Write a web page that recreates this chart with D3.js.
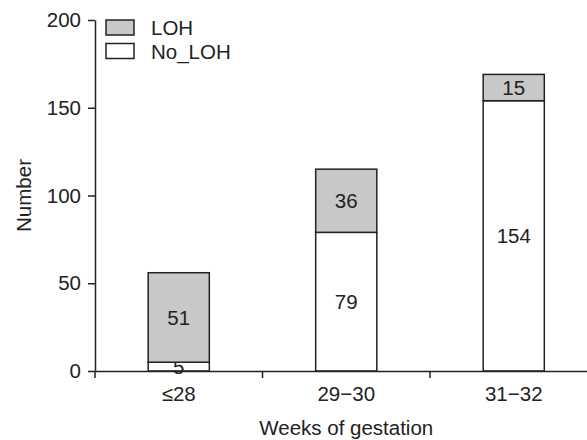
<!DOCTYPE html>
<html>
<head>
<meta charset="utf-8">
<script src="https://cdn.jsdelivr.net/npm/d3@7"></script>
<style>
  html, body { margin: 0; padding: 0; background: #fff; }
  svg { display: block; }
  text { font-family: "Liberation Sans", Arial, sans-serif; fill: #222; }
</style>
</head>
<body>
<svg id="chart" width="587" height="440"></svg>
<script>
const categories = ["≤28", "29−30", "31−32"];
const noLOH = [5, 79, 154];
const LOH = [51, 36, 15];
const seriesNames = ["LOH", "No_LOH"];
const yTicks = [0, 50, 100, 150, 200];

(function () {
const mLeft = 95, mRight = 597.5, mTop = 20, mBottom = 371;
const fontSize = 20.5;
const ink = "#222";
const grey = "#c8c8c8";

const svg = d3.select("#chart");

const x = d3.scaleBand().domain(categories).range([mLeft, mRight]).padding(0);
const y = d3.scaleLinear().domain([0, 200]).range([mBottom, mTop]);
const barW = x.bandwidth() * 0.365;

const rows = categories.map((c, i) => ({ cat: c, No_LOH: noLOH[i], LOH: LOH[i] }));
const stack = d3.stack().keys(["No_LOH", "LOH"])(rows);
const fills = { No_LOH: "#ffffff", LOH: grey };

// bars
stack.forEach(layer => {
  const g = svg.append("g");
  g.selectAll("rect").data(layer).join("rect")
    .attr("x", d => x(d.data.cat) + x.bandwidth() / 2 - barW / 2)
    .attr("y", d => y(d[1]))
    .attr("width", barW)
    .attr("height", d => y(d[0]) - y(d[1]))
    .attr("fill", fills[layer.key])
    .attr("stroke", ink)
    .attr("stroke-width", 1.5);
  g.selectAll("text").data(layer).join("text")
    .attr("x", d => x(d.data.cat) + x.bandwidth() / 2)
    .attr("y", d => (y(d[0]) + y(d[1])) / 2)
    .attr("dy", "0.36em")
    .attr("text-anchor", "middle")
    .attr("font-size", fontSize)
    .text(d => d.data[layer.key]);
});

// y axis
const yAxis = svg.append("g")
  .attr("transform", `translate(${mLeft},0)`)
  .call(d3.axisLeft(y).tickValues(yTicks).tickSize(7).tickSizeOuter(0).tickPadding(7));
yAxis.select(".domain").attr("stroke", ink).attr("stroke-width", 1.5);
yAxis.selectAll(".tick line").attr("stroke", ink).attr("stroke-width", 1.5);
yAxis.selectAll(".tick text").attr("font-size", fontSize).attr("fill", ink)
  .attr("font-family", "Liberation Sans, Arial, sans-serif");

// x axis
const xAxis = svg.append("g")
  .attr("transform", `translate(0,${mBottom})`)
  .call(d3.axisBottom(x).tickSize(0).tickSizeOuter(0).tickPadding(15));
xAxis.select(".domain").attr("stroke", ink).attr("stroke-width", 1.5);
xAxis.selectAll(".tick text").attr("font-size", fontSize).attr("fill", ink)
  .attr("font-family", "Liberation Sans, Arial, sans-serif");
// boundary ticks
const bounds = categories.map(c => x(c)).concat([x(categories[categories.length - 1]) + x.bandwidth()]);
xAxis.selectAll(".btick").data(bounds).join("line")
  .attr("class", "btick")
  .attr("x1", d => d).attr("x2", d => d)
  .attr("y1", 0).attr("y2", 7)
  .attr("stroke", ink).attr("stroke-width", 1.5);

// axis titles
svg.append("text")
  .attr("x", (mLeft + mRight) / 2)
  .attr("y", 435)
  .attr("text-anchor", "middle")
  .attr("font-size", fontSize)
  .text("Weeks of gestation");

svg.append("text")
  .attr("transform", `translate(31,${(mTop + mBottom) / 2}) rotate(-90)`)
  .attr("text-anchor", "middle")
  .attr("font-size", fontSize)
  .text("Number");

// legend
const legend = svg.append("g");
const legendFills = [grey, "#ffffff"];
seriesNames.forEach((name, i) => {
  const ly = 20 + i * 23.5;
  legend.append("rect")
    .attr("x", 106).attr("y", ly)
    .attr("width", 28).attr("height", 15)
    .attr("fill", legendFills[i])
    .attr("stroke", ink).attr("stroke-width", 1.5);
  legend.append("text")
    .attr("x", 151).attr("y", ly + 15)
    .attr("font-size", fontSize)
    .text(name);
});
})();
</script>
</body>
</html>
